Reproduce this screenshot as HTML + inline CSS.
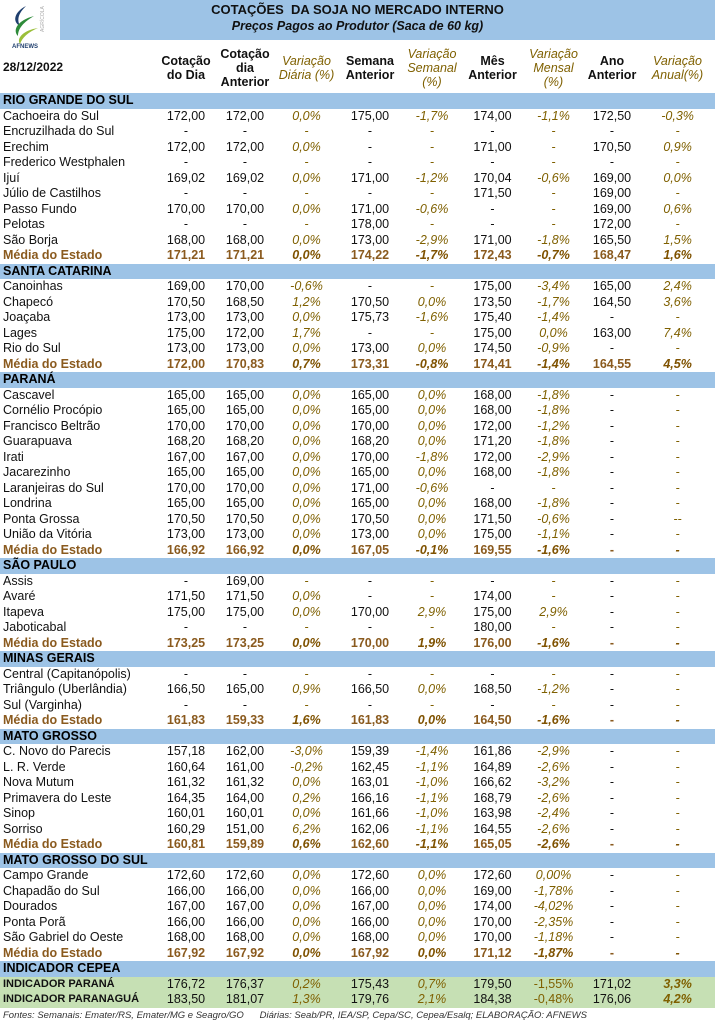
<!DOCTYPE html>
<html><head><meta charset="utf-8">
<style>
*{margin:0;padding:0;box-sizing:border-box}
body{width:715px;height:1024px;background:#fff;font-family:"Liberation Sans",Arial,sans-serif;position:relative;overflow:hidden;color:#111}
.tband{position:absolute;left:60px;top:0;width:655px;height:40px;background:#9dc3e6}
.t1{position:absolute;left:0;width:715px;top:2px;text-align:center;font-weight:bold;font-size:13px}
.t2{position:absolute;left:0;width:715px;top:19px;text-align:center;font-weight:bold;font-style:italic;font-size:12.5px}
.h{position:absolute;top:44px;height:48px;font-size:12.5px;font-weight:bold;text-align:center;line-height:14px;display:flex;align-items:center;justify-content:center}
.hv{color:#7f6000;font-style:italic;font-weight:normal}
.date{position:absolute;left:3px;top:60px;font-size:12px;font-weight:bold}
table{position:absolute;left:0;top:93px;width:715px;border-collapse:collapse;table-layout:fixed;font-size:12.5px}
td{height:15.5px;line-height:15px;padding:0;text-align:center;white-space:nowrap;overflow:visible}
td:first-child{text-align:left;padding-left:3px}
td:nth-child(4),td:nth-child(6),td:nth-child(8),td:nth-child(10){font-style:italic;color:#7f6000}
tr.s td{background:#9dc3e6;font-weight:bold;color:#000}
tr.m td{font-weight:bold;color:#8a5a1e}
tr.m td:nth-child(4),tr.m td:nth-child(6),tr.m td:nth-child(8),tr.m td:nth-child(10){color:#7f5200}
tr.c td{background:#c6e0b4}
tr.c td:first-child{font-weight:bold;font-size:11px}
tr.c td:nth-child(8){font-style:normal}
tr.c td:nth-child(10){font-weight:bold}
.foot{position:absolute;left:3px;top:1010px;font-size:9.5px;font-style:italic;color:#333;white-space:pre}
</style></head><body>
<div class="tband"></div>
<svg style="position:absolute;left:4px;top:2px" width="56" height="48" viewBox="0 0 56 48">
<path d="M22 4 C10 10 8 20 16 24 C12 16 16 10 22 4Z" fill="#1f3f6e"/>
<path d="M30 14 C14 18 8 28 14 34 C14 26 20 20 30 14Z" fill="#2e8b3a"/>
<path d="M34 26 C20 28 12 36 16 42 C18 36 24 30 34 26Z" fill="#9bbf3a"/>
<text x="40" y="30" font-size="5" fill="#aaa" transform="rotate(-90 40 30)" font-family="Liberation Sans">AGRÍCOLA</text>
<text x="8" y="46" font-size="6" fill="#1f3f6e" font-weight="bold" font-family="Liberation Sans">AFNEWS</text>
</svg>
<div class="t1">COTAÇÕES&nbsp; DA SOJA NO MERCADO INTERNO</div>
<div class="t2">Preços Pagos ao Produtor (Saca de 60 kg)</div>
<div class="date">28/12/2022</div>
<div class="h" style="left:157px;width:58px">Cotação<br>do Dia</div>
<div class="h" style="left:215px;width:60px">Cotação<br>dia<br>Anterior</div>
<div class="h hv" style="left:275px;width:63px">Variação<br>Diária (%)</div>
<div class="h" style="left:338px;width:64px">Semana<br>Anterior</div>
<div class="h hv" style="left:402px;width:60px">Variação<br>Semanal<br>(%)</div>
<div class="h" style="left:462px;width:61px">Mês<br>Anterior</div>
<div class="h hv" style="left:523px;width:61px">Variação<br>Mensal<br>(%)</div>
<div class="h" style="left:584px;width:56px">Ano<br>Anterior</div>
<div class="h hv" style="left:640px;width:75px">Variação<br>Anual(%)</div>
<table>
<colgroup><col style="width:157px"><col style="width:58px"><col style="width:60px"><col style="width:63px"><col style="width:64px"><col style="width:60px"><col style="width:61px"><col style="width:61px"><col style="width:56px"><col style="width:75px"></colgroup>
<tr class="s"><td colspan="10" style="text-align:left;padding-left:3px">RIO GRANDE DO SUL</td></tr>
<tr><td>Cachoeira do Sul</td><td>172,00</td><td>172,00</td><td>0,0%</td><td>175,00</td><td>-1,7%</td><td>174,00</td><td>-1,1%</td><td>172,50</td><td>-0,3%</td></tr>
<tr><td>Encruzilhada do Sul</td><td>-</td><td>-</td><td>-</td><td>-</td><td>-</td><td>-</td><td>-</td><td>-</td><td>-</td></tr>
<tr><td>Erechim</td><td>172,00</td><td>172,00</td><td>0,0%</td><td>-</td><td>-</td><td>171,00</td><td>-</td><td>170,50</td><td>0,9%</td></tr>
<tr><td>Frederico Westphalen</td><td>-</td><td>-</td><td>-</td><td>-</td><td>-</td><td>-</td><td>-</td><td>-</td><td>-</td></tr>
<tr><td>Ijuí</td><td>169,02</td><td>169,02</td><td>0,0%</td><td>171,00</td><td>-1,2%</td><td>170,04</td><td>-0,6%</td><td>169,00</td><td>0,0%</td></tr>
<tr><td>Júlio de Castilhos</td><td>-</td><td>-</td><td>-</td><td>-</td><td>-</td><td>171,50</td><td>-</td><td>169,00</td><td>-</td></tr>
<tr><td>Passo Fundo</td><td>170,00</td><td>170,00</td><td>0,0%</td><td>171,00</td><td>-0,6%</td><td>-</td><td>-</td><td>169,00</td><td>0,6%</td></tr>
<tr><td>Pelotas</td><td>-</td><td>-</td><td>-</td><td>178,00</td><td>-</td><td>-</td><td>-</td><td>172,00</td><td>-</td></tr>
<tr><td>São Borja</td><td>168,00</td><td>168,00</td><td>0,0%</td><td>173,00</td><td>-2,9%</td><td>171,00</td><td>-1,8%</td><td>165,50</td><td>1,5%</td></tr>
<tr class="m"><td>Média do Estado</td><td>171,21</td><td>171,21</td><td>0,0%</td><td>174,22</td><td>-1,7%</td><td>172,43</td><td>-0,7%</td><td>168,47</td><td>1,6%</td></tr>
<tr class="s"><td colspan="10" style="text-align:left;padding-left:3px">SANTA CATARINA</td></tr>
<tr><td>Canoinhas</td><td>169,00</td><td>170,00</td><td>-0,6%</td><td>-</td><td>-</td><td>175,00</td><td>-3,4%</td><td>165,00</td><td>2,4%</td></tr>
<tr><td>Chapecó</td><td>170,50</td><td>168,50</td><td>1,2%</td><td>170,50</td><td>0,0%</td><td>173,50</td><td>-1,7%</td><td>164,50</td><td>3,6%</td></tr>
<tr><td>Joaçaba</td><td>173,00</td><td>173,00</td><td>0,0%</td><td>175,73</td><td>-1,6%</td><td>175,40</td><td>-1,4%</td><td>-</td><td>-</td></tr>
<tr><td>Lages</td><td>175,00</td><td>172,00</td><td>1,7%</td><td>-</td><td>-</td><td>175,00</td><td>0,0%</td><td>163,00</td><td>7,4%</td></tr>
<tr><td>Rio do Sul</td><td>173,00</td><td>173,00</td><td>0,0%</td><td>173,00</td><td>0,0%</td><td>174,50</td><td>-0,9%</td><td>-</td><td>-</td></tr>
<tr class="m"><td>Média do Estado</td><td>172,00</td><td>170,83</td><td>0,7%</td><td>173,31</td><td>-0,8%</td><td>174,41</td><td>-1,4%</td><td>164,55</td><td>4,5%</td></tr>
<tr class="s"><td colspan="10" style="text-align:left;padding-left:3px">PARANÁ</td></tr>
<tr><td>Cascavel</td><td>165,00</td><td>165,00</td><td>0,0%</td><td>165,00</td><td>0,0%</td><td>168,00</td><td>-1,8%</td><td>-</td><td>-</td></tr>
<tr><td>Cornélio Procópio</td><td>165,00</td><td>165,00</td><td>0,0%</td><td>165,00</td><td>0,0%</td><td>168,00</td><td>-1,8%</td><td>-</td><td>-</td></tr>
<tr><td>Francisco Beltrão</td><td>170,00</td><td>170,00</td><td>0,0%</td><td>170,00</td><td>0,0%</td><td>172,00</td><td>-1,2%</td><td>-</td><td>-</td></tr>
<tr><td>Guarapuava</td><td>168,20</td><td>168,20</td><td>0,0%</td><td>168,20</td><td>0,0%</td><td>171,20</td><td>-1,8%</td><td>-</td><td>-</td></tr>
<tr><td>Irati</td><td>167,00</td><td>167,00</td><td>0,0%</td><td>170,00</td><td>-1,8%</td><td>172,00</td><td>-2,9%</td><td>-</td><td>-</td></tr>
<tr><td>Jacarezinho</td><td>165,00</td><td>165,00</td><td>0,0%</td><td>165,00</td><td>0,0%</td><td>168,00</td><td>-1,8%</td><td>-</td><td>-</td></tr>
<tr><td>Laranjeiras do Sul</td><td>170,00</td><td>170,00</td><td>0,0%</td><td>171,00</td><td>-0,6%</td><td>-</td><td>-</td><td>-</td><td>-</td></tr>
<tr><td>Londrina</td><td>165,00</td><td>165,00</td><td>0,0%</td><td>165,00</td><td>0,0%</td><td>168,00</td><td>-1,8%</td><td>-</td><td>-</td></tr>
<tr><td>Ponta Grossa</td><td>170,50</td><td>170,50</td><td>0,0%</td><td>170,50</td><td>0,0%</td><td>171,50</td><td>-0,6%</td><td>-</td><td>--</td></tr>
<tr><td>União da Vitória</td><td>173,00</td><td>173,00</td><td>0,0%</td><td>173,00</td><td>0,0%</td><td>175,00</td><td>-1,1%</td><td>-</td><td>-</td></tr>
<tr class="m"><td>Média do Estado</td><td>166,92</td><td>166,92</td><td>0,0%</td><td>167,05</td><td>-0,1%</td><td>169,55</td><td>-1,6%</td><td>-</td><td>-</td></tr>
<tr class="s"><td colspan="10" style="text-align:left;padding-left:3px">SÃO PAULO</td></tr>
<tr><td>Assis</td><td>-</td><td>169,00</td><td>-</td><td>-</td><td>-</td><td>-</td><td>-</td><td>-</td><td>-</td></tr>
<tr><td>Avaré</td><td>171,50</td><td>171,50</td><td>0,0%</td><td>-</td><td>-</td><td>174,00</td><td>-</td><td>-</td><td>-</td></tr>
<tr><td>Itapeva</td><td>175,00</td><td>175,00</td><td>0,0%</td><td>170,00</td><td>2,9%</td><td>175,00</td><td>2,9%</td><td>-</td><td>-</td></tr>
<tr><td>Jaboticabal</td><td>-</td><td>-</td><td>-</td><td>-</td><td>-</td><td>180,00</td><td>-</td><td>-</td><td>-</td></tr>
<tr class="m"><td>Média do Estado</td><td>173,25</td><td>173,25</td><td>0,0%</td><td>170,00</td><td>1,9%</td><td>176,00</td><td>-1,6%</td><td>-</td><td>-</td></tr>
<tr class="s"><td colspan="10" style="text-align:left;padding-left:3px">MINAS GERAIS</td></tr>
<tr><td>Central (Capitanópolis)</td><td>-</td><td>-</td><td>-</td><td>-</td><td>-</td><td>-</td><td>-</td><td>-</td><td>-</td></tr>
<tr><td>Triângulo (Uberlândia)</td><td>166,50</td><td>165,00</td><td>0,9%</td><td>166,50</td><td>0,0%</td><td>168,50</td><td>-1,2%</td><td>-</td><td>-</td></tr>
<tr><td>Sul (Varginha)</td><td>-</td><td>-</td><td>-</td><td>-</td><td>-</td><td>-</td><td>-</td><td>-</td><td>-</td></tr>
<tr class="m"><td>Média do Estado</td><td>161,83</td><td>159,33</td><td>1,6%</td><td>161,83</td><td>0,0%</td><td>164,50</td><td>-1,6%</td><td>-</td><td>-</td></tr>
<tr class="s"><td colspan="10" style="text-align:left;padding-left:3px">MATO GROSSO</td></tr>
<tr><td>C. Novo do Parecis</td><td>157,18</td><td>162,00</td><td>-3,0%</td><td>159,39</td><td>-1,4%</td><td>161,86</td><td>-2,9%</td><td>-</td><td>-</td></tr>
<tr><td>L. R. Verde</td><td>160,64</td><td>161,00</td><td>-0,2%</td><td>162,45</td><td>-1,1%</td><td>164,89</td><td>-2,6%</td><td>-</td><td>-</td></tr>
<tr><td>Nova Mutum</td><td>161,32</td><td>161,32</td><td>0,0%</td><td>163,01</td><td>-1,0%</td><td>166,62</td><td>-3,2%</td><td>-</td><td>-</td></tr>
<tr><td>Primavera do Leste</td><td>164,35</td><td>164,00</td><td>0,2%</td><td>166,16</td><td>-1,1%</td><td>168,79</td><td>-2,6%</td><td>-</td><td>-</td></tr>
<tr><td>Sinop</td><td>160,01</td><td>160,01</td><td>0,0%</td><td>161,66</td><td>-1,0%</td><td>163,98</td><td>-2,4%</td><td>-</td><td>-</td></tr>
<tr><td>Sorriso</td><td>160,29</td><td>151,00</td><td>6,2%</td><td>162,06</td><td>-1,1%</td><td>164,55</td><td>-2,6%</td><td>-</td><td>-</td></tr>
<tr class="m"><td>Média do Estado</td><td>160,81</td><td>159,89</td><td>0,6%</td><td>162,60</td><td>-1,1%</td><td>165,05</td><td>-2,6%</td><td>-</td><td>-</td></tr>
<tr class="s"><td colspan="10" style="text-align:left;padding-left:3px">MATO GROSSO DO SUL</td></tr>
<tr><td>Campo Grande</td><td>172,60</td><td>172,60</td><td>0,0%</td><td>172,60</td><td>0,0%</td><td>172,60</td><td>0,00%</td><td>-</td><td>-</td></tr>
<tr><td>Chapadão do Sul</td><td>166,00</td><td>166,00</td><td>0,0%</td><td>166,00</td><td>0,0%</td><td>169,00</td><td>-1,78%</td><td>-</td><td>-</td></tr>
<tr><td>Dourados</td><td>167,00</td><td>167,00</td><td>0,0%</td><td>167,00</td><td>0,0%</td><td>174,00</td><td>-4,02%</td><td>-</td><td>-</td></tr>
<tr><td>Ponta Porã</td><td>166,00</td><td>166,00</td><td>0,0%</td><td>166,00</td><td>0,0%</td><td>170,00</td><td>-2,35%</td><td>-</td><td>-</td></tr>
<tr><td>São Gabriel do Oeste</td><td>168,00</td><td>168,00</td><td>0,0%</td><td>168,00</td><td>0,0%</td><td>170,00</td><td>-1,18%</td><td>-</td><td>-</td></tr>
<tr class="m"><td>Média do Estado</td><td>167,92</td><td>167,92</td><td>0,0%</td><td>167,92</td><td>0,0%</td><td>171,12</td><td>-1,87%</td><td>-</td><td>-</td></tr>
<tr class="s"><td colspan="10" style="text-align:left;padding-left:3px">INDICADOR CEPEA</td></tr>
<tr class="c"><td>INDICADOR PARANÁ</td><td>176,72</td><td>176,37</td><td>0,2%</td><td>175,43</td><td>0,7%</td><td>179,50</td><td>-1,55%</td><td>171,02</td><td>3,3%</td></tr>
<tr class="c"><td>INDICADOR PARANAGUÁ</td><td>183,50</td><td>181,07</td><td>1,3%</td><td>179,76</td><td>2,1%</td><td>184,38</td><td>-0,48%</td><td>176,06</td><td>4,2%</td></tr>
</table>
<div class="foot">Fontes: Semanais: Emater/RS, Emater/MG e Seagro/GO      Diárias: Seab/PR, IEA/SP, Cepa/SC, Cepea/Esalq; ELABORAÇÃO: AFNEWS</div>
</body></html>
